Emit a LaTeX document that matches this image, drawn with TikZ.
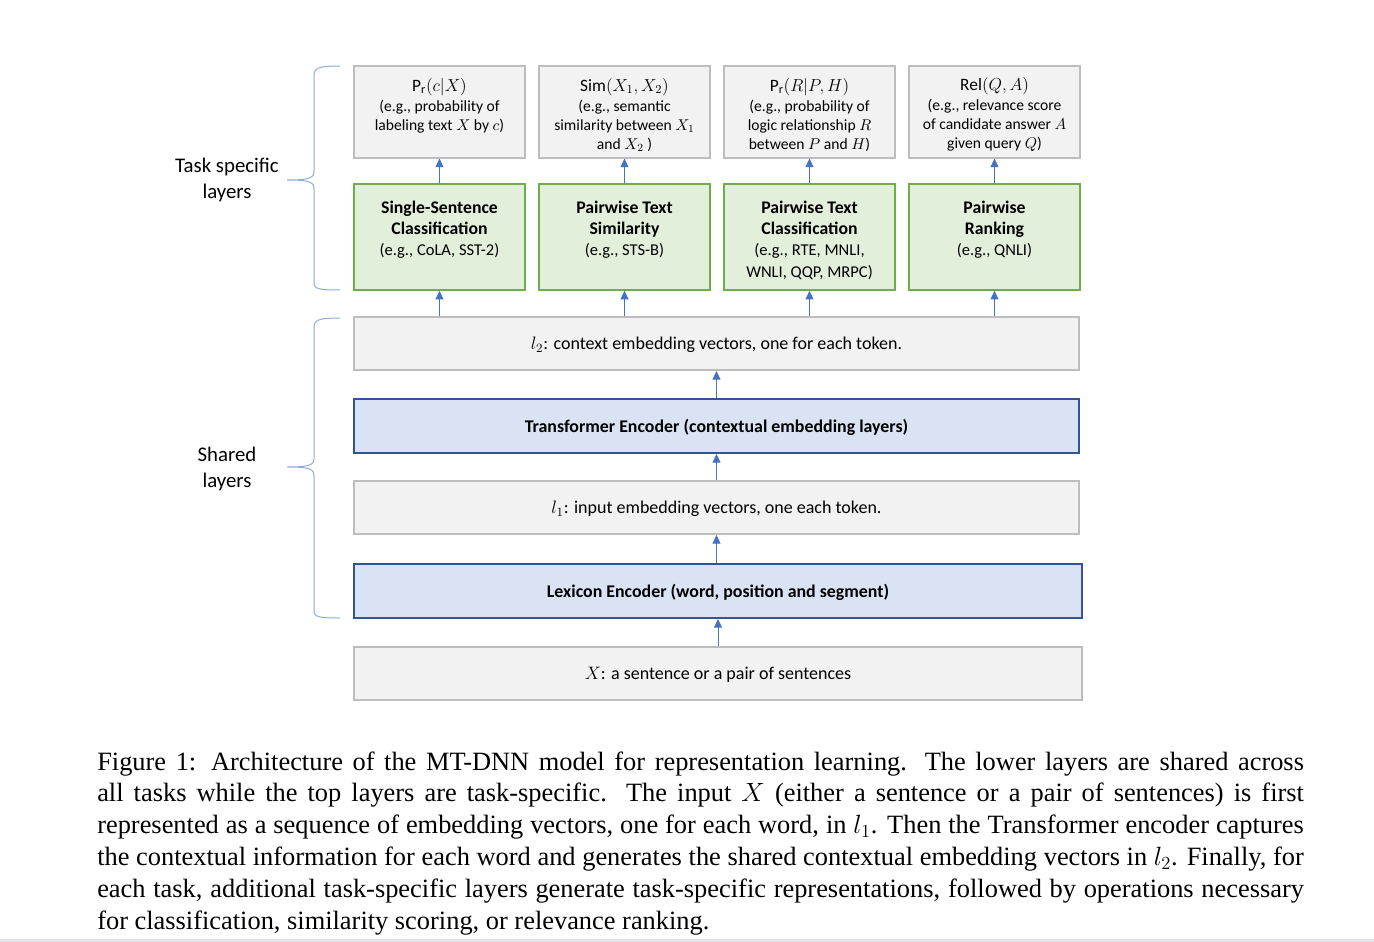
\RequirePackage{fix-cm}
\documentclass[tikz,border=0pt]{standalone}
\usepackage{fontspec}
\setmainfont{Carlito}
\newfontfamily\capfont{Liberation Serif}
\usetikzlibrary{arrows.meta}
\definecolor{grayfill}{HTML}{F2F2F2}
\definecolor{grayline}{HTML}{BDBDBD}
\definecolor{greenfill}{HTML}{E2EFDA}
\definecolor{greenline}{HTML}{70AD47}
\definecolor{bluefill}{HTML}{DAE3F3}
\definecolor{blueline}{HTML}{2F5597}
\definecolor{arrowblue}{HTML}{4472C4}
\definecolor{braceblue}{HTML}{8FAADC}
\definecolor{stripcol}{HTML}{E4E4E8}
\begin{document}
\begin{tikzpicture}[x=0.75pt,y=-0.75pt,
  outbox/.style={draw=grayline, fill=grayfill, line width=1.5pt, minimum width=128.25pt, minimum height=68.25pt, inner sep=0},
  taskbox/.style={draw=greenline, fill=greenfill, line width=1.2pt, minimum width=128.25pt, minimum height=79.5pt, inner sep=0},
  widebox/.style={draw=grayline, fill=grayfill, line width=1.5pt, minimum width=543.75pt, minimum height=39.75pt, inner sep=0, text depth=0pt, font=\fontsize{13.5}{15}\selectfont},
  encbox/.style={draw=blueline, fill=bluefill, line width=1.5pt, minimum width=543.75pt, minimum height=40.5pt, inner sep=0, text depth=0pt, font=\bfseries\fontsize{13.4}{15}\selectfont},
  outtext/.style={align=center, inner sep=0, anchor=north, font=\fontsize{11.7}{14.3}\selectfont},
  tasktext/.style={align=center, inner sep=0, anchor=north, font=\fontsize{12.4}{16}\selectfont},
  bracelabel/.style={align=center, inner sep=0, font=\fontsize{15.6}{19.5}\selectfont},
  arr/.style={draw=arrowblue, line width=0.75pt, -{Triangle[length=6.5pt,width=6pt]}},
  bracestyle/.style={draw=braceblue, line width=0.75pt}
]
\useasboundingbox (0,0) rectangle (1374,942);
\fill[white] (0,0) rectangle (1374,942);
\fill[stripcol] (0,938.5) rectangle (1374,942);

% output boxes
\node[outbox] (o1) at (439.5,112) {};
\node[outbox] (o2) at (624.5,112) {};
\node[outbox] (o3) at (809.5,112) {};
\node[outbox] (o4) at (994.5,112) {};
\newcommand{\ttl}[1]{{\fontsize{13}{14.3}\selectfont #1}}
\newcommand{\hb}[1]{{\fontsize{13.3}{16}\selectfont\bfseries #1}}
\node[outtext] (ot1) at (439.5,78) {\ttl{$\mathrm{P_r}(c|X)$}\\[0.5pt](e.g., probability of\\labeling text $X$ by $c$)};
\node[outtext] (ot2) at (624.5,78) {\ttl{$\mathrm{Sim}(X_1,X_2)$}\\[0.5pt](e.g., semantic\\similarity between $X_1$\\and $X_2$ )};
\node[outtext] (ot3) at (809.5,78) {\ttl{$\mathrm{P_r}(R|P,H)$}\\[0.5pt](e.g., probability of\\logic relationship $R$\\between $P$ and $H$)};
\node[outtext] (ot4) at (994.5,77) {\ttl{$\mathrm{Rel}(Q,A)$}\\[0.5pt](e.g., relevance score\\of candidate answer $A$\\given query $Q$)};

% task boxes
\node[taskbox] (g1) at (439.5,237) {};
\node[taskbox] (g2) at (624.5,237) {};
\node[taskbox] (g3) at (809.5,237) {};
\node[taskbox] (g4) at (994.5,237) {};
\node[tasktext] (gt1) at (439.5,200.5) {\hb{Single-Sentence}\\\hb{Classification}\\(e.g., CoLA, SST-2)};
\node[tasktext] (gt2) at (624.5,200.5) {\hb{Pairwise Text}\\\hb{Similarity}\\(e.g., STS-B)};
\node[tasktext] (gt3) at (809.5,200.5) {\hb{Pairwise Text}\\\hb{Classification}\\(e.g., RTE, MNLI,\\WNLI, QQP, MRPC)};
\node[tasktext] (gt4) at (994.5,200.5) {\hb{Pairwise}\\\hb{Ranking}\\(e.g., QNLI)};

% shared boxes
\node[widebox] (l2) at (716.5,343.5) {$l_2$: context embedding vectors, one for each token.};
\node[encbox] (te) at (716.5,426) {Transformer Encoder (contextual embedding layers)};
\node[widebox] (l1) at (716.5,507.5) {$l_1$: input embedding vectors, one each token.};
\node[encbox, minimum width=546pt] (le) at (718,591) {Lexicon Encoder (word, position and segment)};
\node[widebox, minimum width=546pt] (xin) at (718,673) {$X$: a sentence or a pair of sentences};

% arrows
\foreach \i in {1,2,3,4} {
  \draw[arr] (g\i.north) -- (o\i.south);
  \draw[arr] (g\i.south |- l2.north) -- (g\i.south);
}
\draw[arr] (te.north) -- (l2.south);
\draw[arr] (l1.north) -- (te.south);
\draw[arr] (le.north -| l1.south) -- (l1.south);
\draw[arr] (xin.north) -- (le.south);

% braces
\draw[bracestyle] (340,66) .. controls (318,66) and (314,68) .. (314,76) -- (314,171) .. controls (314,178) and (310,180) .. (287,180) .. controls (310,180) and (314,182) .. (314,189) -- (314,282) .. controls (314,289) and (318,290) .. (340,290);
\draw[bracestyle] (340,318) .. controls (318,318) and (314,320) .. (314,328) -- (314,458) .. controls (314,465) and (310,467) .. (287,467) .. controls (310,467) and (314,469) .. (314,476) -- (314,610) .. controls (314,617) and (318,618) .. (340,618);
\node[bracelabel] (lab1) at (227,180) {Task specific\\layers};
\node[bracelabel] (lab2) at (227,469) {Shared\\layers};

% caption
\node[anchor=base west, inner sep=0] (cap) at (97,770) {\parbox[t]{905pt}{\capfont\fontsize{19.8}{23.85}\selectfont
Figure 1: Architecture of the MT-DNN model for representation learning. The lower layers are shared across\linebreak
all tasks while the top layers are task-specific. The input $X$ (either a sentence or a pair of sentences) is first\linebreak
represented as a sequence of embedding vectors, one for each word, in $l_1$. Then the Transformer encoder captures\linebreak
the contextual information for each word and generates the shared contextual embedding vectors in $l_2$. Finally, for\linebreak
each task, additional task-specific layers generate task-specific representations, followed by operations necessary\linebreak
for classification, similarity scoring, or relevance ranking.}};
\end{tikzpicture}
\end{document}
